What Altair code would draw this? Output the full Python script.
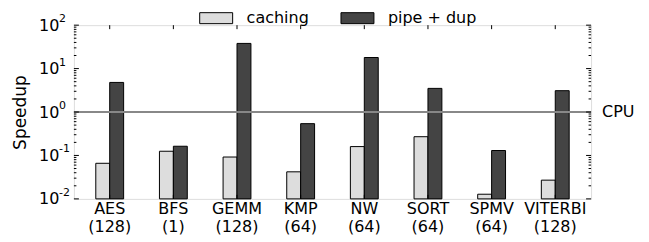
import altair as alt
import pandas as pd

benchmarks = ["AES", "BFS", "GEMM", "KMP", "NW", "SORT", "SPMV", "VITERBI"]
threads = ["128", "1", "128", "64", "64", "64", "64", "128"]
caching = [0.066, 0.125, 0.092, 0.042, 0.16, 0.27, 0.0128, 0.027]
pipe_dup = [4.8, 0.163, 38, 0.54, 18, 3.5, 0.13, 3.1]
series_names = ["caching", "pipe + dup"]
series_colors = ["#dddddd", "#444444"]
y_tick_values = [0.01, 0.1, 1, 10, 100]
y_tick_base = "10"
y_tick_exponents = ["-2", "-1", "0", "1", "2"]
cpu_baseline = [1]
cpu_label = ["CPU"]
bar_floor = 0.01

W, H = 518, 174
FONT = "DejaVu Sans"

cats = [f"{b}\n({t})" for b, t in zip(benchmarks, threads)]

rows = []
for c, a, b in zip(cats, caching, pipe_dup):
    rows.append({"cat": c, "series": series_names[0], "v": a, "base": bar_floor})
    rows.append({"cat": c, "series": series_names[1], "v": b, "base": bar_floor})
df = pd.DataFrame(rows)

yscale = alt.Scale(type="log", domain=[y_tick_values[0], y_tick_values[-1]])
xscale = alt.Scale(domain=cats, paddingInner=0.5625, paddingOuter=0.344)

x_enc = alt.X(
    "cat:N", sort=cats, scale=xscale,
    axis=alt.Axis(title=None, labelExpr="split(datum.label, '\\n')", labelAngle=0,
                  ticks=False, domain=False, labelFontSize=16, labelPadding=2,
                  labelLineHeight=18, labelColor="black", labelFont=FONT),
)
y_enc = alt.Y(
    "v:Q", scale=yscale,
    axis=alt.Axis(title="Speedup", values=y_tick_values, labelExpr=f"'{y_tick_base}'",
                  ticks=False, domain=False, grid=False, labelFontSize=16,
                  labelPadding=15, titleFontSize=17, titleFontWeight="normal",
                  titlePadding=9, labelColor="black", titleColor="black",
                  labelFont=FONT, titleFont=FONT),
)

bars = alt.Chart(df).mark_bar(stroke="black", strokeWidth=1, opacity=1).encode(
    x=x_enc,
    xOffset=alt.XOffset("series:N", sort=series_names,
                        scale=alt.Scale(domain=series_names, paddingInner=0, paddingOuter=0)),
    y=y_enc,
    y2="base:Q",
    color=alt.Color(
        "series:N", title=None,
        scale=alt.Scale(domain=series_names, range=series_colors),
        legend=alt.Legend(orient="none", legendX=134.5, legendY=-15, direction="horizontal",
                          symbolType="M-3,-1H3V1H-3Z", symbolSize=121,
                          symbolStrokeColor="black", symbolStrokeWidth=1,
                          labelFontSize=16, labelOffset=22.5, columnPadding=29.5,
                          padding=0, labelColor="black", labelFont=FONT,
                          symbolOpacity=1),
    ),
)

exp_df = pd.DataFrame({"v": y_tick_values, "e": y_tick_exponents})
exponents = alt.Chart(exp_df).mark_text(align="left", baseline="middle", fontSize=11,
                                        font=FONT, color="black", dy=-6).encode(
    y=alt.Y("v:Q", scale=yscale), x=alt.value(-15), text="e:N"
)

cpu_df = pd.DataFrame({"v": cpu_baseline, "label": cpu_label})
cpu_rule = alt.Chart(cpu_df).mark_rule(color="#888888", strokeWidth=2).encode(
    y=alt.Y("v:Q", scale=yscale)
)
cpu_text = alt.Chart(cpu_df).mark_text(align="left", baseline="middle", fontSize=16,
                                       font=FONT, color="black").encode(
    y=alt.Y("v:Q", scale=yscale), x=alt.value(W + 11), text="label:N"
)

major_df = pd.DataFrame({"v": y_tick_values})
minor_vals = [k * d for d in y_tick_values[:-1] for k in range(2, 10)]
minor_df = pd.DataFrame({"v": minor_vals})

def yticks(data, x0, x1):
    return alt.Chart(data).mark_rule(color="black", strokeWidth=1).encode(
        y=alt.Y("v:Q", scale=yscale), x=alt.value(x0), x2=alt.value(x1)
    )

cat_df = pd.DataFrame({"cat": cats})
def xticks(y0, y1):
    return alt.Chart(cat_df).mark_rule(color="black", strokeWidth=1).encode(
        x=alt.X("cat:N", sort=cats, scale=xscale), y=alt.value(y0), y2=alt.value(y1)
    )

chart = alt.layer(
    bars,
    cpu_rule,
    cpu_text,
    exponents,
    yticks(major_df, 0, 5),
    yticks(major_df, W - 5, W),
    yticks(minor_df, 0, 2.5),
    yticks(minor_df, W - 2.5, W),
    xticks(0, 4),
    xticks(H - 4, H),
).properties(
    width=W, height=H,
    autosize=alt.AutoSizeParams(type="none"),
    padding={"left": 66, "top": 17, "right": 50, "bottom": 42},
).configure_view(
    stroke="black", strokeWidth=1
).configure(
    font=FONT, background="white"
)

chart.save("out.html", embed_options={"renderer": "svg", "actions": False})
